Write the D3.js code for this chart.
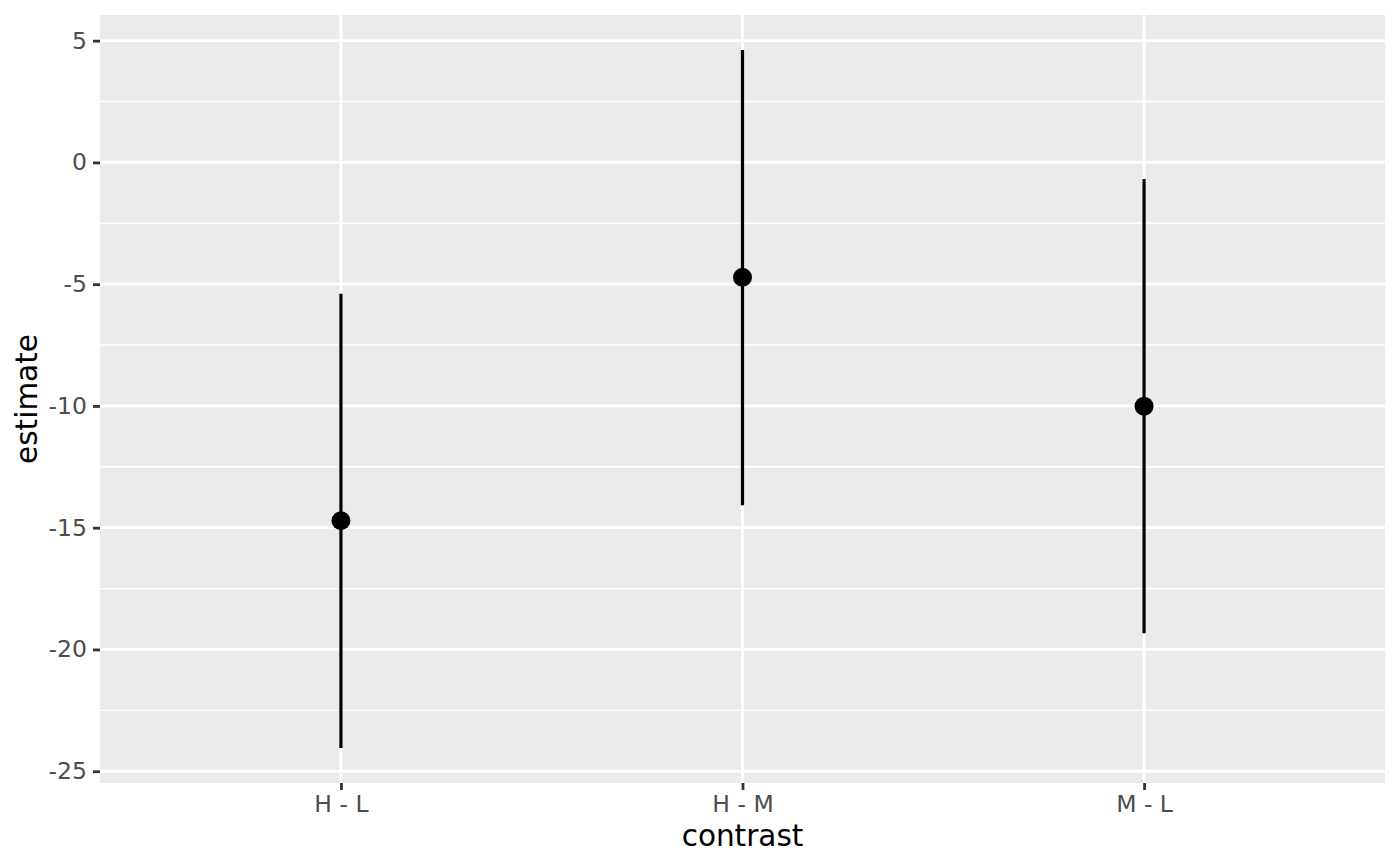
<!DOCTYPE html>
<html>
<head>
<meta charset="utf-8">
<script src="https://cdn.jsdelivr.net/npm/d3@7"></script>
<style>
  body { margin: 0; background: #fff; }
  text { font-family: "DejaVu Sans", sans-serif; }
</style>
</head>
<body>
<div id="chart"></div>
<script>
// data
var contrasts = ["H - L", "H - M", "M - L"];
var estimates = [-14.71, -4.72, -10.01];
var lowers = [-24.05, -14.08, -19.33];
var uppers = [-5.39, 4.62, -0.68];
var yTicks = [-25, -20, -15, -10, -5, 0, 5];

var svgWidth = 1400;
var svgHeight = 866;

var margin = {
  top: 15,
  right: 15,
  bottom: 83,
  left: 100
};

var plot_width = svgWidth - margin.left - margin.right;
var plot_height = svgHeight - margin.top - margin.bottom;

var Data = contrasts.map(function(c, i) {
  return { contrast: c, estimate: estimates[i], lower: lowers[i], upper: uppers[i] };
});

var svg = d3.select("#chart")
  .append("svg")
  .attr("width", svgWidth)
  .attr("height", svgHeight);

var g = svg.append("g")
  .attr("transform", `translate(${margin.left}, ${margin.top})`);

// scales, ggplot style expansion (5% continuous, 0.6 discrete)
var yMin = d3.min(Data, d => d.lower);
var yMax = d3.max(Data, d => d.upper);
var pad = (yMax - yMin) * 0.05;
var yScale = d3.scaleLinear()
  .domain([yMin - pad, yMax + pad])
  .range([plot_height, 0]);

var xScale = d3.scaleLinear()
  .domain([0.4, contrasts.length + 0.6])
  .range([0, plot_width]);

// panel background
g.append("rect")
  .attr("width", plot_width)
  .attr("height", plot_height)
  .attr("fill", "#EBEBEB");

// minor grid
var minor = yTicks.slice(0, -1).map((t, i) => (t + yTicks[i + 1]) / 2);
g.selectAll(".minor")
  .data(minor)
  .enter()
  .append("line")
  .attr("x1", 0)
  .attr("x2", plot_width)
  .attr("y1", d => yScale(d))
  .attr("y2", d => yScale(d))
  .attr("stroke", "#fff")
  .attr("stroke-width", 1.4);

// major grid
g.selectAll(".majorY")
  .data(yTicks)
  .enter()
  .append("line")
  .attr("x1", 0)
  .attr("x2", plot_width)
  .attr("y1", d => yScale(d))
  .attr("y2", d => yScale(d))
  .attr("stroke", "#fff")
  .attr("stroke-width", 2.8);

g.selectAll(".majorX")
  .data(contrasts)
  .enter()
  .append("line")
  .attr("x1", (d, i) => xScale(i + 1))
  .attr("x2", (d, i) => xScale(i + 1))
  .attr("y1", 0)
  .attr("y2", plot_height)
  .attr("stroke", "#fff")
  .attr("stroke-width", 2.8);

// axes
var yAxis = d3.axisLeft(yScale).tickValues(yTicks).tickSize(7).tickPadding(6)
  .tickFormat(d => d < 0 ? "-" + Math.abs(d) : d);
var xAxis = d3.axisBottom(xScale).tickValues([1, 2, 3]).tickSize(7).tickPadding(5)
  .tickFormat(d => contrasts[d - 1]);

var yg = g.append("g").call(yAxis);
var xg = g.append("g").attr("transform", `translate(0, ${plot_height})`).call(xAxis);

[yg, xg].forEach(function(a) {
  a.select(".domain").remove();
  a.selectAll(".tick line").attr("stroke", "#333333").attr("stroke-width", 2.8);
  a.selectAll(".tick text")
    .attr("fill", "#4D4D4D")
    .style("font-size", "23.5px")
    .style("font-family", "DejaVu Sans, sans-serif");
});

// error bars
g.selectAll(".range")
  .data(Data)
  .enter()
  .append("line")
  .attr("x1", (d, i) => xScale(i + 1))
  .attr("x2", (d, i) => xScale(i + 1))
  .attr("y1", d => yScale(d.lower))
  .attr("y2", d => yScale(d.upper))
  .attr("stroke", "#000")
  .attr("stroke-width", 3.2);

// points
g.selectAll("circle")
  .data(Data)
  .enter()
  .append("circle")
  .attr("cx", (d, i) => xScale(i + 1))
  .attr("cy", d => yScale(d.estimate))
  .attr("r", 9.5)
  .attr("fill", "#000");

// axis titles
g.append("text")
  .attr("x", plot_width / 2)
  .attr("y", plot_height + 63)
  .attr("text-anchor", "middle")
  .style("font-size", "29.5px")
  .attr("fill", "#000")
  .text("contrast");

g.append("text")
  .attr("transform", "rotate(-90)")
  .attr("x", -plot_height / 2)
  .attr("y", 37 - margin.left)
  .attr("text-anchor", "middle")
  .style("font-size", "29.5px")
  .attr("fill", "#000")
  .text("estimate");
</script>
</body>
</html>
